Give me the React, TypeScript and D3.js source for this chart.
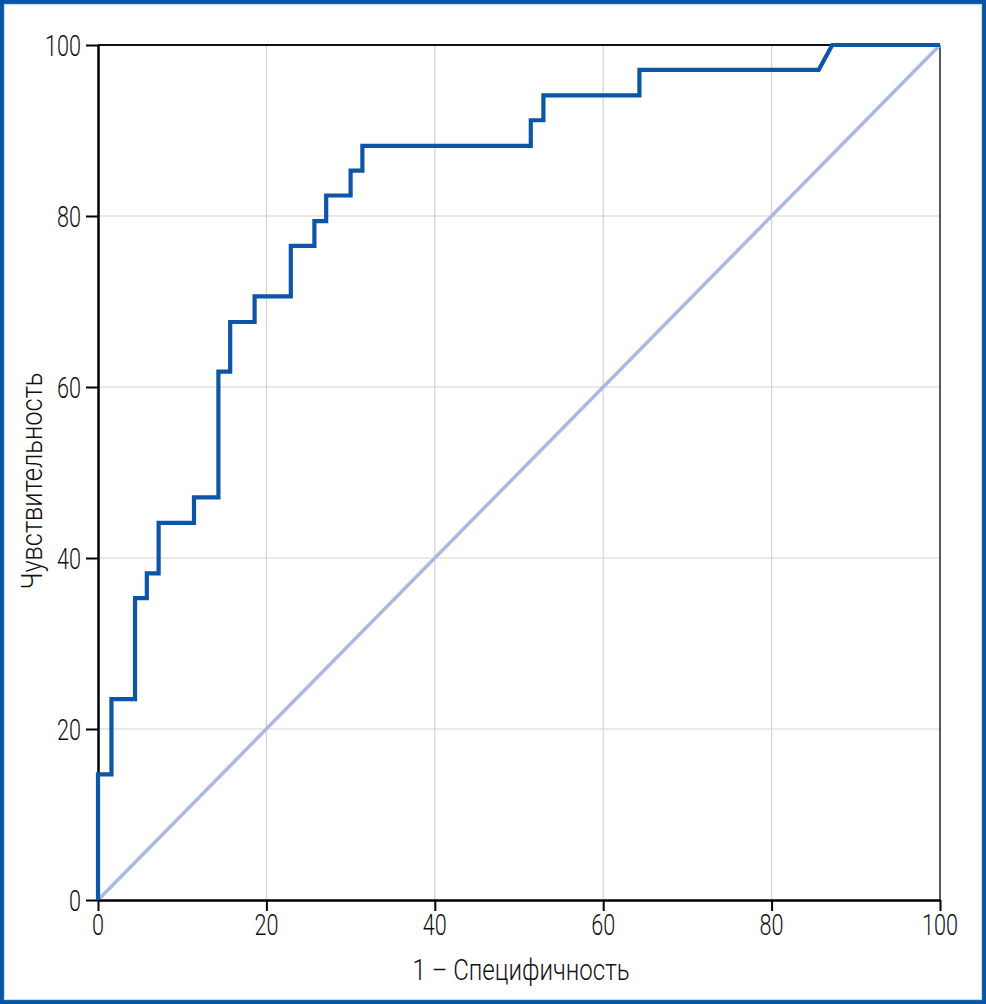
import { useEffect, useRef } from "react";
import * as d3 from "d3";

// ROC curve points (1 - specificity, sensitivity), in %
const fpr = [0, 0, 1.6, 1.6, 4.4, 4.4, 5.8, 5.8, 7.2, 7.2, 11.4, 11.4, 14.3, 14.3, 15.7, 15.7, 18.6, 18.6, 22.9, 22.9, 25.7, 25.7, 27.1, 27.1, 30.0, 30.0, 31.4, 31.4, 51.4, 51.4, 52.9, 52.9, 64.3, 64.3, 85.6, 87.2, 100];
const tpr = [0, 14.7, 14.7, 23.5, 23.5, 35.3, 35.3, 38.2, 38.2, 44.1, 44.1, 47.1, 47.1, 61.8, 61.8, 67.6, 67.6, 70.6, 70.6, 76.5, 76.5, 79.4, 79.4, 82.4, 82.4, 85.3, 85.3, 88.2, 88.2, 91.2, 91.2, 94.1, 94.1, 97.1, 97.1, 100, 100];
const ticks = [0, 20, 40, 60, 80, 100];
const xTitle = "1 – Специфичность";
const yTitle = "Чувствительность";

const W = 986;
const H = 1004;
const FONT = "Roboto, 'DejaVu Sans', sans-serif";

export default function App() {
  const svgRef = useRef<SVGSVGElement>(null);

  useEffect(() => {
    document.body.style.margin = "0";
    if (!svgRef.current) return;
    const svg = d3.select(svgRef.current);
    svg.selectAll("*").remove();

    const x = d3.scaleLinear().domain([0, 100]).range([98, 940]);
    const y = d3.scaleLinear().domain([0, 100]).range([900, 45]);

    svg.append("rect").attr("width", W).attr("height", H).attr("fill", "#fff");

    // grid
    const grid = svg.append("g").attr("stroke", "#d4d4d4").attr("stroke-width", 1.2);
    ticks.slice(1, -1).forEach(t => {
      grid.append("line").attr("x1", x(t)).attr("x2", x(t)).attr("y1", y(0)).attr("y2", y(100));
      grid.append("line").attr("x1", x(0)).attr("x2", x(100)).attr("y1", y(t)).attr("y2", y(t));
    });

    // right and top borders
    svg.append("line").attr("x1", x(100)).attr("x2", x(100)).attr("y1", y(0)).attr("y2", y(100))
      .attr("stroke", "#222").attr("stroke-width", 1.5);
    svg.append("line").attr("x1", x(0)).attr("x2", x(100)).attr("y1", y(100)).attr("y2", y(100))
      .attr("stroke", "#111").attr("stroke-width", 1.8);

    // diagonal reference
    svg.append("line").attr("x1", x(0)).attr("y1", y(0)).attr("x2", x(100)).attr("y2", y(100))
      .attr("stroke", "#a9b9e1").attr("stroke-width", 3.5);

    // axes (lines only, labels drawn below)
    const xAxis = svg.append("g").attr("transform", `translate(0,${y(0)})`)
      .call(d3.axisBottom(x).tickValues(ticks).tickSize(11).tickSizeOuter(0).tickFormat(() => ""));
    const yAxis = svg.append("g").attr("transform", `translate(${x(0)},0)`)
      .call(d3.axisLeft(y).tickValues(ticks).tickSize(12).tickSizeOuter(0).tickFormat(() => ""));
    [xAxis, yAxis].forEach(a => {
      a.select(".domain").attr("stroke", "#000").attr("stroke-width", 2.5);
      a.selectAll(".tick line").attr("stroke", "#000").attr("stroke-width", 2);
    });

    const label = (g: d3.Selection<SVGGElement, unknown, null, undefined>) =>
      g.attr("fill", "#111").style("font-family", FONT).style("font-size", "30px").style("font-weight", 300);

    const xl = label(svg.append("g"));
    ticks.forEach(t => {
      const s = String(t);
      xl.append("text").attr("x", x(t)).attr("y", 935).attr("text-anchor", "middle")
        .attr("textLength", 12 * s.length).attr("lengthAdjust", "spacingAndGlyphs").text(s);
    });
    const yl = label(svg.append("g"));
    ticks.forEach(t => {
      const s = String(t);
      yl.append("text").attr("x", 81).attr("y", y(t) + 11).attr("text-anchor", "end")
        .attr("textLength", 12 * s.length).attr("lengthAdjust", "spacingAndGlyphs").text(s);
    });

    // ROC curve
    const pts = fpr.map((f, i) => [f, tpr[i]] as [number, number]);
    const line = d3.line<[number, number]>().x(d => x(d[0])).y(d => y(d[1]));
    svg.append("path").datum(pts).attr("d", line).attr("fill", "none")
      .attr("stroke", "#0b56a7").attr("stroke-width", 4.2).attr("stroke-linejoin", "miter");

    // titles
    const tl = label(svg.append("g"));
    tl.append("text").attr("x", 521).attr("y", 980)
      .attr("text-anchor", "middle")
      .attr("textLength", 217).attr("lengthAdjust", "spacingAndGlyphs").text(xTitle);
    tl.append("text").attr("transform", `translate(42,481) rotate(-90)`)
      .attr("text-anchor", "middle")
      .attr("textLength", 217).attr("lengthAdjust", "spacingAndGlyphs").text(yTitle);

    // frame
    svg.append("rect").attr("x", 2).attr("y", 2).attr("width", W - 4).attr("height", H - 4)
      .attr("fill", "none").attr("stroke", "#0556a5").attr("stroke-width", 4);
    svg.append("rect").attr("x", 4.5).attr("y", 4.5).attr("width", W - 9).attr("height", H - 9)
      .attr("fill", "none").attr("stroke", "#c9dcef").attr("stroke-width", 1.2);
  }, []);

  return <svg ref={svgRef} width={W} height={H} style={{ display: "block" }} />;
}
